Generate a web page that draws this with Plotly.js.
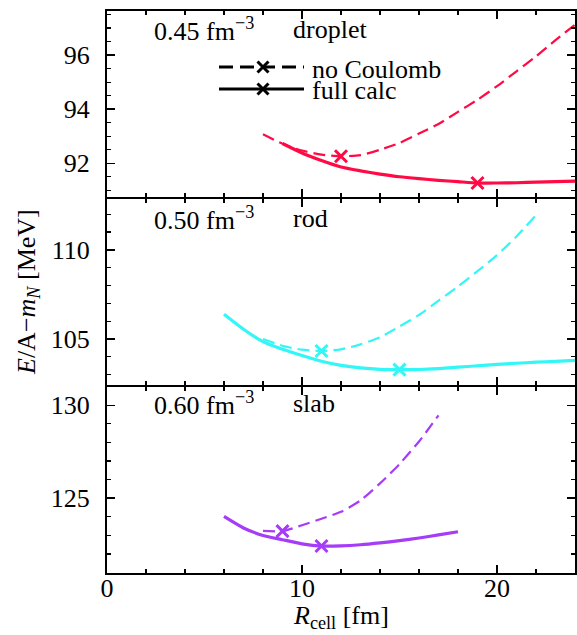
<!DOCTYPE html>
<html>
<head>
<meta charset="utf-8">
<script src="https://cdn.plot.ly/plotly-3.0.1.min.js"></script>
<style>html,body{margin:0;padding:0;background:#fff;font-family:'Liberation Serif',serif;}#chart{width:577px;height:635px;}</style>
</head>
<body>
<div id="chart"></div>
<script>
// ---- data ----
// Panel 1: 0.45 fm^-3 droplet
const dropNoCoulX = [8, 9, 10, 11, 12, 13, 14, 15, 16, 17, 18, 19, 20, 21, 22, 23, 24];
const dropNoCoulY = [93.07, 92.72, 92.47, 92.32, 92.26, 92.30, 92.50, 92.75, 93.10, 93.45, 93.90, 94.35, 94.85, 95.40, 95.95, 96.55, 97.12];
const dropFullX = [9, 10, 11, 12, 13, 14, 15, 16, 17, 18, 19, 20, 21, 22, 23, 24];
const dropFullY = [92.73, 92.38, 92.10, 91.86, 91.72, 91.60, 91.50, 91.43, 91.37, 91.32, 91.27, 91.27, 91.28, 91.30, 91.32, 91.34];
const dropMinNoCoul = [12, 92.26];
const dropMinFull = [19, 91.27];

// Panel 2: 0.50 fm^-3 rod
const rodNoCoulX = [8, 9, 10, 11, 12, 13, 14, 15, 16, 17, 18, 19, 20, 21, 22];
const rodNoCoulY = [105.00, 104.62, 104.40, 104.33, 104.42, 104.70, 105.10, 105.70, 106.35, 107.15, 107.95, 108.80, 109.70, 110.75, 111.94];
const rodFullX = [6, 7, 8, 9, 10, 11, 12, 13, 14, 15, 16, 17, 18, 19, 20, 21, 22, 23, 24];
const rodFullY = [106.39, 105.55, 104.85, 104.42, 104.07, 103.75, 103.52, 103.38, 103.30, 103.28, 103.29, 103.34, 103.42, 103.50, 103.58, 103.64, 103.70, 103.75, 103.80];
const rodMinNoCoul = [11, 104.33];
const rodMinFull = [15, 103.28];

// Panel 3: 0.60 fm^-3 slab
const slabNoCoulX = [8, 9, 10, 11, 12, 13, 14, 15, 16, 17];
const slabNoCoulY = [123.25, 123.23, 123.55, 123.90, 124.27, 124.88, 125.80, 126.84, 128.05, 129.46];
const slabFullX = [6, 7, 8, 9, 10, 11, 12, 13, 14, 15, 16, 17, 18];
const slabFullY = [124.02, 123.40, 123.00, 122.77, 122.55, 122.43, 122.44, 122.50, 122.60, 122.72, 122.86, 123.03, 123.20];
const slabMinNoCoul = [9, 123.23];
const slabMinFull = [11, 122.43];

const panelLabels = ["0.45 fm<sup>−3</sup>", "0.50 fm<sup>−3</sup>", "0.60 fm<sup>−3</sup>"];
const panelShapes = ["droplet", "rod", "slab"];
const legendLabels = ["no Coulomb", "full calc"];

const colors = ["#ff0a44", "#33f6f6", "#a53cf8"];

// ---- traces ----
const FONT = "Liberation Serif";
function curve(x, y, color, dashed, xa, ya) {
  return {x: x, y: y, type: "scatter", mode: "lines", xaxis: xa, yaxis: ya,
    line: {color: color, width: dashed ? 2.2 : 3.2, dash: dashed ? "12px,6px" : "solid", shape: "spline", smoothing: 0.6},
    hoverinfo: "skip", showlegend: false};
}
function mark(pt, color, xa, ya) {
  return {x: [pt[0]], y: [pt[1]], type: "scatter", mode: "markers", xaxis: xa, yaxis: ya,
    marker: {symbol: "x-thin", size: 12, color: color, line: {color: color, width: 3}},
    hoverinfo: "skip", showlegend: false};
}
const traces = [
  curve(dropNoCoulX, dropNoCoulY, colors[0], true, "x3", "y3"),
  curve(dropFullX, dropFullY, colors[0], false, "x3", "y3"),
  mark(dropMinNoCoul, colors[0], "x3", "y3"),
  mark(dropMinFull, colors[0], "x3", "y3"),
  curve(rodNoCoulX, rodNoCoulY, colors[1], true, "x2", "y2"),
  curve(rodFullX, rodFullY, colors[1], false, "x2", "y2"),
  mark(rodMinNoCoul, colors[1], "x2", "y2"),
  mark(rodMinFull, colors[1], "x2", "y2"),
  curve(slabNoCoulX, slabNoCoulY, colors[2], true, "x", "y"),
  curve(slabFullX, slabFullY, colors[2], false, "x", "y"),
  mark(slabMinNoCoul, colors[2], "x", "y"),
  mark(slabMinFull, colors[2], "x", "y"),
];

// ---- layout ----
const tickFont = {family: FONT, size: 26, color: "#000"};
function xax(anchor, labels) {
  return {range: [0, 24], dtick: 10, tick0: 0, ticks: "inside", ticklen: 8, tickwidth: 1.5, tickcolor: "#000",
    minor: {dtick: 2, ticks: "inside", ticklen: 4, tickwidth: 1.2, tickcolor: "#000"},
    showline: true, linewidth: 2, linecolor: "#000", mirror: "ticks", showgrid: false, zeroline: false,
    showticklabels: labels, anchor: anchor, ticklabelstandoff: -9,
    tickfont: tickFont};
}
function yax(domain, range, dtick, minor, anchor) {
  return {domain: domain, range: range, dtick: dtick, tick0: 0, ticks: "inside", ticklen: 8, tickwidth: 1.5, tickcolor: "#000",
    minor: {dtick: minor, ticks: "inside", ticklen: 4, tickwidth: 1.2, tickcolor: "#000"},
    showline: true, linewidth: 2, linecolor: "#000", mirror: "ticks", showgrid: false, zeroline: false,
    anchor: anchor, ticklabelstandoff: 10,
    tickfont: tickFont};
}

// paper coordinate helpers (plot area: left 107, right 575, top 11, bottom 573)
const L = 107, R = 575, T = 11, B = 573;
const px = v => (v - L) / (R - L);
const py = v => (B - v) / (B - T);

const annFont = {family: FONT, size: 26, color: "#000"};
const annotations = [];
const labelY = [29, 218, 403];
for (let i = 0; i < 3; i++) {
  annotations.push({xref: "paper", yref: "paper", x: px(152), y: py(labelY[i]), xanchor: "left", yanchor: "middle",
    text: panelLabels[i], showarrow: false, font: annFont});
  annotations.push({xref: "paper", yref: "paper", x: px(291), y: py(labelY[i]), xanchor: "left", yanchor: "middle",
    text: panelShapes[i], showarrow: false, font: annFont});
}
annotations.push({xref: "paper", yref: "paper", x: px(310), y: py(69), xanchor: "left", yanchor: "middle",
  text: legendLabels[0], showarrow: false, font: annFont});
annotations.push({xref: "paper", yref: "paper", x: px(310), y: py(90), xanchor: "left", yanchor: "middle",
  text: legendLabels[1], showarrow: false, font: annFont});
// axis titles
annotations.push({xref: "paper", yref: "paper", x: px(341), y: py(617), xanchor: "center", yanchor: "middle",
  text: "<i>R</i><sub>cell</sub> [fm]", showarrow: false, font: annFont});
annotations.push({xref: "paper", yref: "paper", x: px(28), y: py(292), xanchor: "center", yanchor: "middle",
  text: "<i>E</i>/A−<i>m</i><sub><i>N</i></sub> [MeV]", textangle: -90, showarrow: false, font: annFont});

// legend line samples drawn as shapes
function cross(cx, cy, s) {
  return {type: "path", xref: "paper", yref: "paper",
    path: `M ${px(cx - s)} ${py(cy - s)} L ${px(cx + s)} ${py(cy + s)} M ${px(cx - s)} ${py(cy + s)} L ${px(cx + s)} ${py(cy - s)}`,
    line: {color: "#000", width: 3}};
}
const shapes = [
  {type: "line", xref: "paper", yref: "paper", x0: px(219), x1: px(304), y0: py(67), y1: py(67),
    line: {color: "#000", width: 3, dash: "14px,7px"}},
  {type: "line", xref: "paper", yref: "paper", x0: px(219), x1: px(304), y0: py(89), y1: py(89),
    line: {color: "#000", width: 3}},
  cross(263, 67, 5.5), cross(263, 89, 5.5)
];

// domains separated by one line width so adjacent frame lines coincide
const g = 1 / (B - T);
const third = 1 / 3;
const layout = {
  width: 577, height: 635,
  margin: {l: L, r: 577 - R, t: T, b: 635 - B, pad: 0},
  paper_bgcolor: "#fff", plot_bgcolor: "#fff",
  showlegend: false,
  font: {family: FONT, size: 26, color: "#000"},
  xaxis: xax("y", true),
  xaxis2: Object.assign(xax("y2", false), {matches: "x"}),
  xaxis3: Object.assign(xax("y3", false), {matches: "x"}),
  yaxis: yax([0, third - g], [120.98, 131.0], 5, 1, "x"),
  yaxis2: yax([third + g, 2 * third - g], [102.44, 112.83], 5, 1, "x2"),
  yaxis3: yax([2 * third + g, 1], [90.74, 97.63], 2, 0.5, "x3"),
  annotations: annotations,
  shapes: shapes
};

Plotly.newPlot("chart", traces, layout, {staticPlot: true, displayModeBar: false});
</script>
</body>
</html>
